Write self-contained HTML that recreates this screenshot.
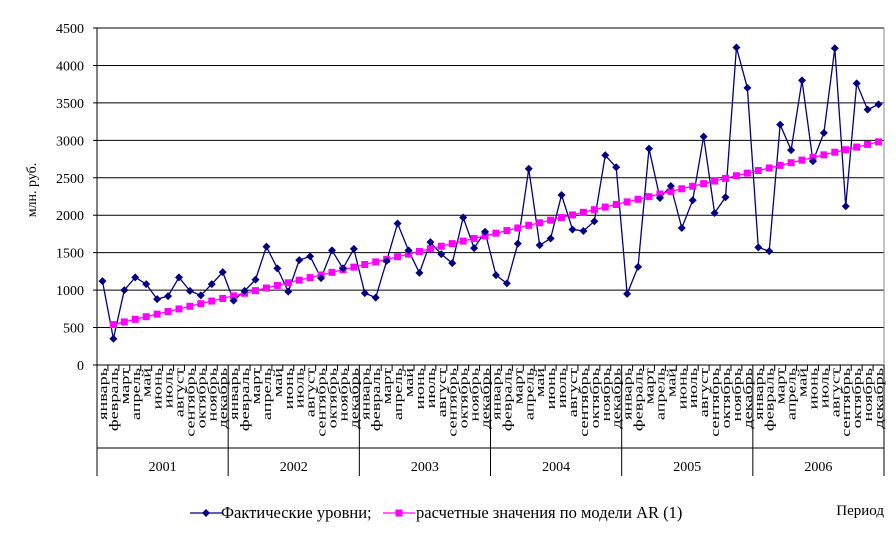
<!DOCTYPE html>
<html><head><meta charset="utf-8"><style>
body{margin:0;background:#fff}
svg{display:block;font-family:"Liberation Serif",serif}
</style></head><body>
<svg id="chart" width="896" height="558" viewBox="0 0 896 558"></svg>
<script>
const years=["2001","2002","2003","2004","2005","2006"];
const months=["январь","февраль","март","апрель","май","июнь","июль","август","сентябрь","октябрь","ноябрь","декабрь"];
const actual=[1120,350,1000,1170,1080,880,920,1170,990,930,1080,1240,
860,990,1140,1580,1290,980,1400,1450,1160,1530,1290,1550,
960,900,1390,1890,1530,1230,1640,1480,1360,1970,1560,1780,
1200,1090,1620,2620,1600,1690,2270,1810,1790,1920,2800,2640,
950,1310,2890,2230,2390,1830,2200,3050,2030,2240,4240,3700,
1570,1520,3210,2870,3800,2720,3100,4230,2120,3760,3410,3480];
const model=[null,540,575,610,645,679,714,749,784,819,854,889,
923,958,993,1028,1063,1098,1133,1167,1202,1237,1272,1307,
1342,1377,1411,1446,1481,1516,1551,1586,1621,1655,1690,1725,
1760,1795,1830,1865,1899,1934,1969,2004,2039,2074,2109,2143,
2178,2213,2248,2283,2318,2353,2387,2422,2457,2492,2527,2562,
2597,2631,2666,2701,2736,2771,2806,2841,2875,2910,2945,2980];
const yTicks=[0,500,1000,1500,2000,2500,3000,3500,4000,4500];
const NS="http://www.w3.org/2000/svg";
const svg=document.getElementById("chart");
const X0=97,X1=884,Y0=365,Y1=28,N=72,YMAX=4500;
const cw=(X1-X0)/N;
const xs=i=>X0+cw*(i+0.5);
const ys=v=>Y0-(v/YMAX)*(Y0-Y1);
function mk(t,a,p){const e=document.createElementNS(NS,t);for(const k in a)e.setAttribute(k,a[k]);(p||svg).appendChild(e);return e;}
yTicks.forEach(v=>{
 const l=mk("line",{x1:X0-4,x2:X1,y1:ys(v),y2:ys(v),stroke:"#000","stroke-width":1});
 
 
 const t=mk("text",{x:84,y:ys(v)+5,"text-anchor":"end","font-size":14});
 t.textContent=v;
 
 
});
mk("line",{x1:X0,x2:X0,y1:Y1,y2:476,stroke:"#000"});
mk("line",{x1:X1,x2:X1,y1:Y1,y2:Y0,stroke:"#888"});
mk("line",{x1:X0,x2:X1,y1:448,y2:448,stroke:"#000"});
const yt=mk("text",{transform:"translate(36,190) rotate(-90)","text-anchor":"middle","font-size":14});
yt.textContent="млн. руб.";


for(let i=0;i<N;i++){
 mk("line",{x1:X0+cw*(i+1),x2:X0+cw*(i+1),y1:Y0,y2:(i+1)%12==0?476:371,stroke:"#000"});
 const t=mk("text",{transform:`translate(${xs(i)+4.5},368) rotate(-90) scale(1.4,1)`,"text-anchor":"end","font-size":13});
 t.textContent=months[i%12];
 
 
}
years.forEach((y,j)=>{
 const t=mk("text",{x:X0+cw*(j*12+6),y:471,"text-anchor":"middle","font-size":14});
 t.textContent=y;
 
 
});
const pa=actual.map((v,i)=>`${xs(i)},${ys(v)}`).join(" ");
const la=mk("polyline",{points:pa,fill:"none",stroke:"#000080","stroke-width":1.3});


const pm=model.map((v,i)=>v==null?null:`${xs(i)},${ys(v)}`).filter(Boolean).join(" ");
const lm=mk("polyline",{points:pm,fill:"none",stroke:"#ff00ff","stroke-width":1.3});


model.forEach((v,i)=>{if(v==null)return;
 const r=mk("rect",{x:xs(i)-3.5,y:ys(v)-3.5,width:7,height:7,fill:"#ff00ff"});
 
 
});
actual.forEach((v,i)=>{
 const x=xs(i),y=ys(v);
 const d=mk("polygon",{points:`${x},${y-4} ${x+4},${y} ${x},${y+4} ${x-4},${y}`,fill:"#000080"});
 
 
});
const lg=mk("g",{});


mk("line",{x1:190,x2:222,y1:513,y2:513,stroke:"#000080","stroke-width":1.3},lg);
mk("polygon",{points:"206,509 210,513 206,517 202,513",fill:"#000080"},lg);
const t1=mk("text",{x:221,y:518,"font-size":16.5},lg);t1.textContent="Фактические уровни;";
mk("line",{x1:383,x2:415,y1:513,y2:513,stroke:"#ff00ff","stroke-width":1.3},lg);
mk("rect",{x:395.5,y:509.5,width:7,height:7,fill:"#ff00ff"},lg);
const t2=mk("text",{x:416,y:518,"font-size":16.5},lg);t2.textContent="расчетные значения по модели AR (1)";
const xt=mk("text",{x:884,y:515,"text-anchor":"end","font-size":15});
xt.textContent="Период";


</script>
</body></html>
